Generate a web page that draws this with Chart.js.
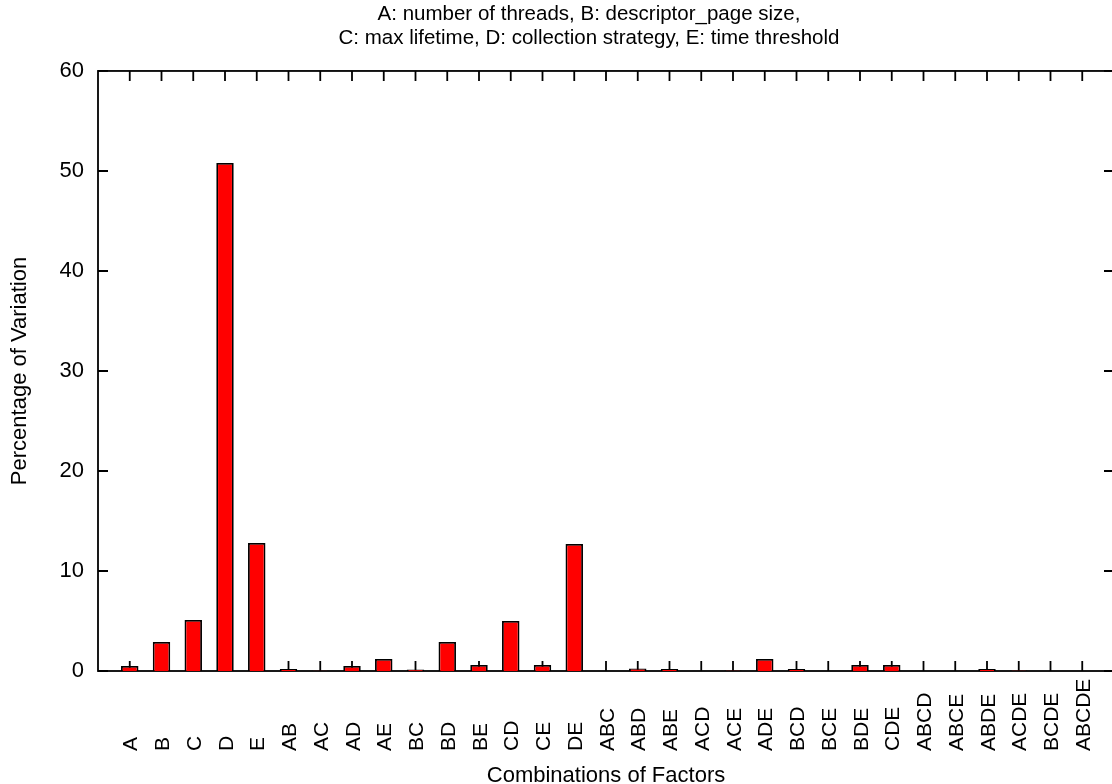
<!DOCTYPE html>
<html>
<head>
<meta charset="utf-8">
<script src="https://cdn.jsdelivr.net/npm/chart.js@4.4.0/dist/chart.umd.min.js"></script>
<style>
  body { margin: 0; overflow: hidden; background: #fff; }
  canvas { display: block; }
</style>
</head>
<body>
<canvas id="chart" width="1178" height="790"></canvas>
<script>
// Factor combinations and their share of variation (%)
const categories = ['A', 'B', 'C', 'D', 'E', 'AB', 'AC', 'AD', 'AE', 'BC', 'BD', 'BE', 'CD', 'CE', 'DE',
    'ABC', 'ABD', 'ABE', 'ACD', 'ACE', 'ADE', 'BCD', 'BCE', 'BDE', 'CDE',
    'ABCD', 'ABCE', 'ABDE', 'ACDE', 'BCDE', 'ABCDE'];
const variation = [0.5, 2.9, 5.1, 50.8, 12.8, 0.2, 0.03, 0.5, 1.2, 0.15, 2.9, 0.6, 5.0, 0.6, 12.7,
    0.02, 0.25, 0.2, 0.02, 0.05, 1.2, 0.2, 0.01, 0.6, 0.6,
    0.02, 0.02, 0.2, 0.05, 0.01, 0.01];
const yTicks = [0, 10, 20, 30, 40, 50, 60];
const titleLines = ['A: number of threads, B: descriptor_page size,',
    'C: max lifetime, D: collection strategy, E: time threshold'];

const FONT = '"Liberation Sans", Arial, Helvetica, sans-serif';
Chart.defaults.color = '#000';
Chart.defaults.font.family = FONT;
Chart.defaults.font.size = 22;

// gnuplot style frame with inward ticks, drawn under the bars
const framePlugin = {
    id: 'frame',
    beforeDatasetsDraw(chart) {
        const ctx = chart.ctx;
        const a = chart.chartArea;
        const x = chart.scales.x;
        const y = chart.scales.y;
        ctx.save();
        ctx.strokeStyle = '#000';
        ctx.lineWidth = 1.8;
        ctx.strokeRect(a.left, a.top, a.right - a.left, a.bottom - a.top);
        ctx.beginPath();
        categories.forEach((c, i) => {
            const px = x.getPixelForValue(i);
            ctx.moveTo(px, a.bottom);
            ctx.lineTo(px, a.bottom - 10);
            ctx.moveTo(px, a.top);
            ctx.lineTo(px, a.top + 10);
        });
        yTicks.forEach(v => {
            const py = y.getPixelForValue(v);
            ctx.moveTo(a.left, py);
            ctx.lineTo(a.left + 10, py);
            ctx.moveTo(a.right, py);
            ctx.lineTo(a.right - 10, py);
        });
        ctx.stroke();
        ctx.restore();
    },
    afterDraw(chart) {
        // rotated category labels, anchored at their start
        const ctx = chart.ctx;
        const x = chart.scales.x;
        ctx.save();
        ctx.fillStyle = '#000';
        ctx.font = '21px ' + FONT;
        ctx.textAlign = 'left';
        ctx.textBaseline = 'alphabetic';
        categories.forEach((c, i) => {
            ctx.save();
            ctx.translate(x.getPixelForValue(i) + 7.5, 751);
            ctx.rotate(-Math.PI / 2);
            ctx.fillText(c, 0, 0);
            ctx.restore();
        });
        ctx.restore();
    }
};

new Chart(document.getElementById('chart'), {
    type: 'bar',
    data: {
        datasets: [{
            data: variation.map((v, i) => ({ x: i, y: v })),
            backgroundColor: '#ff0000',
            borderColor: '#000',
            borderWidth: 1.8,
            barPercentage: 0.55,
            categoryPercentage: 1
        }]
    },
    options: {
        responsive: false,
        animation: false,
        layout: { padding: 0 },
        plugins: {
            legend: { display: false },
            tooltip: { enabled: false },
            title: {
                display: true,
                text: titleLines,
                font: { size: 20.5, weight: 'normal', lineHeight: 1.17 },
                padding: { top: 2, bottom: 21 }
            }
        },
        scales: {
            x: {
                type: 'linear',
                offset: false,
                min: -1,
                max: 31,
                grid: { display: false, drawTicks: false },
                border: { display: false },
                ticks: { display: false },
                title: {
                    display: true,
                    text: 'Combinations of Factors',
                    font: { size: 22 },
                    padding: { top: 0, bottom: 1 }
                },
                afterFit: s => { s.height = 119; }
            },
            y: {
                min: 0,
                max: 60,
                afterBuildTicks: s => { s.ticks = yTicks.map(v => ({ value: v })); },
                grid: { display: false, drawTicks: false },
                border: { display: false },
                ticks: { padding: 14, font: { size: 22 } },
                title: {
                    display: true,
                    text: 'Percentage of Variation',
                    font: { size: 22 },
                    padding: { top: 7, bottom: 0 }
                },
                afterFit: s => { s.width = 98; }
            },
            y2: {
                position: 'right',
                grid: { display: false, drawTicks: false },
                border: { display: false },
                ticks: { display: false },
                afterFit: s => { s.width = 64; }
            }
        }
    },
    plugins: [framePlugin]
});
</script>
</body>
</html>
